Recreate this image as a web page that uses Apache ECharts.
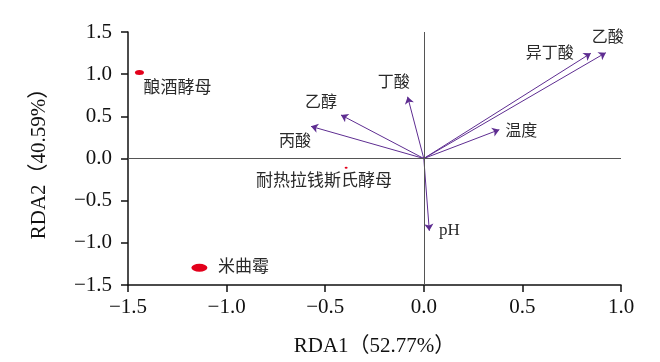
<!DOCTYPE html>
<html><head><meta charset="utf-8">
<script src="https://cdn.jsdelivr.net/npm/echarts@6/dist/echarts.min.js"></script>
<style>html,body{margin:0;padding:0;background:#fff}#c{width:660px;height:362px}</style>
</head><body><div id="c"></div>
<script>
// Data
const xTicks = [-1.5, -1.0, -0.5, 0.0, 0.5, 1.0];
const yTicks = [-1.5, -1.0, -0.5, 0.0, 0.5, 1.0, 1.5];
const envNames = ['乙酸', '异丁酸', '温度', '丁酸', '乙醇', '丙酸', 'pH'];
const envX = [0.923, 0.847, 0.383, -0.082, -0.42, -0.572, 0.028];
const envY = [1.255, 1.248, 0.342, 0.732, 0.516, 0.381, -0.858];
const spNames = ['酿酒酵母', '耐热拉钱斯氏酵母', '米曲霉'];
const spX = [-1.442, -0.394, -1.138];
const spY = [1.019, -0.11, -1.295];
const xName = 'RDA1（52.77%）';
const yName = 'RDA2（40.59%）';

// Styles
const envLabelOffset = [[2,-15],[-41,1],[22,2],[-14,-14],[-20,-12],[-16,15],[20,0]];
const spLabelOffset = [[38,16],[-22,14],[44,0]];
const spSize = [[9,5],[3,2],[16,8]];
const serif = '"Liberation Serif","Times New Roman",serif';
const cjk = '"Liberation Serif","Noto Sans CJK SC",serif';
const arrowColor = '#5e2d91';
const ptColor = '#e3001b';
const txtColor = '#2a2a2a';

const fmt = v => (v < 0 ? '\u2212' : '') + Math.abs(v).toFixed(1);

const chart = echarts.init(document.getElementById('c'));
chart.setOption({
  animation: false,
  grid: {left: 128, right: 39, top: 32, bottom: 76},
  xAxis: {
    type: 'value', min: xTicks[0], max: xTicks[xTicks.length-1], interval: 0.5,
    name: xName, nameLocation: 'middle', nameGap: 51,
    nameTextStyle: {fontFamily: cjk, fontSize: 21, color: '#111'},
    axisLine: {onZero: false, lineStyle: {color: '#111', width: 1.5}},
    axisTick: {length: 7, inside: false, lineStyle: {color: '#111', width: 1.5}},
    axisLabel: {formatter: fmt, fontFamily: serif, fontSize: 21, color: '#111', margin: 12},
    splitLine: {show: false}
  },
  yAxis: {
    type: 'value', min: yTicks[0], max: yTicks[yTicks.length-1], interval: 0.5,
    name: yName, nameLocation: 'middle', nameGap: 78, nameRotate: 90,
    nameTextStyle: {fontFamily: cjk, fontSize: 21, color: '#111'},
    axisLine: {onZero: false, lineStyle: {color: '#111', width: 1.5}},
    axisTick: {length: 7, inside: false, lineStyle: {color: '#111', width: 1.5}},
    axisLabel: {formatter: fmt, fontFamily: serif, fontSize: 21, color: '#111', margin: 16},
    splitLine: {show: false}
  },
  series: [
    {
      type: 'scatter', data: [], silent: true,
      markLine: {
        silent: true, symbol: ['none','none'], label: {show: false},
        lineStyle: {color: '#555', width: 1, type: 'solid'},
        data: [{xAxis: 0}, {yAxis: 0}]
      }
    },
    {
      type: 'lines', coordinateSystem: 'cartesian2d', silent: true,
      symbol: ['none', 'arrow'], symbolSize: [0, 7],
      lineStyle: {color: arrowColor, width: 1, opacity: 1},
      data: envNames.map((n, i) => ({coords: [[0, 0], [envX[i], envY[i]]]}))
    },
    {
      type: 'scatter', silent: true, symbolSize: 0,
      itemStyle: {opacity: 1},
      data: envNames.map((n, i) => ({
        value: [envX[i], envY[i]],
        label: {show: true, formatter: n, position: 'inside', offset: envLabelOffset[i],
          fontFamily: n === 'pH' ? serif : cjk, fontSize: n === 'pH' ? 17 : 16, color: txtColor}
      }))
    },
    {
      type: 'scatter', silent: true,
      itemStyle: {opacity: 1},
      data: spNames.map((n, i) => ({
        value: [spX[i], spY[i]], symbol: 'circle', symbolSize: spSize[i],
        itemStyle: {color: ptColor, opacity: 1},
        label: {show: true, formatter: n, position: 'inside', offset: spLabelOffset[i],
          fontFamily: cjk, fontSize: 17, color: txtColor}
      }))
    }
  ]
});
</script></body></html>
